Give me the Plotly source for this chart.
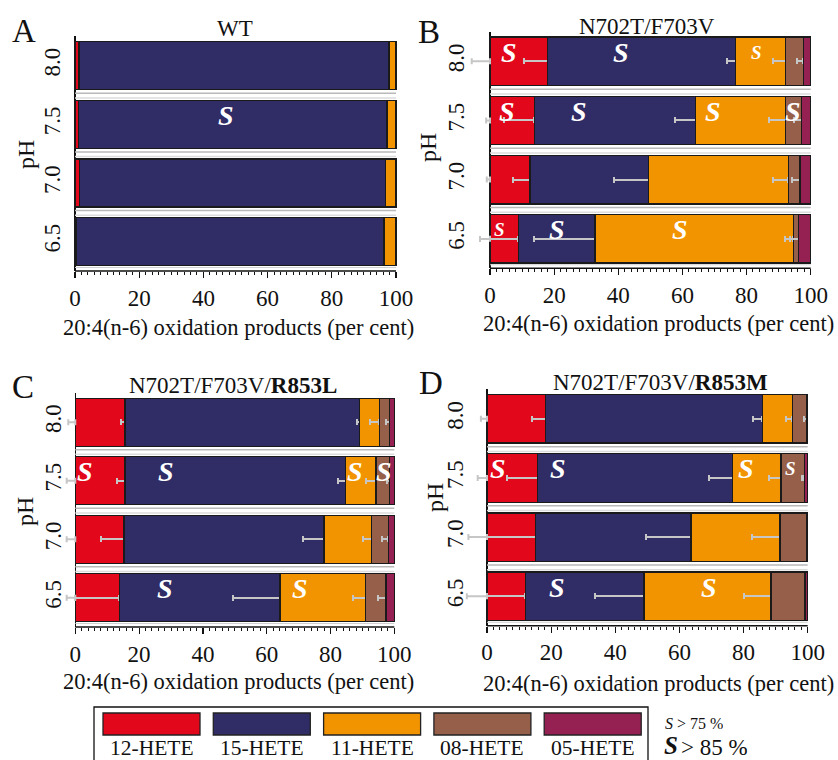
import plotly.graph_objects as go

W, H = 838, 760
FONT = "Liberation Serif"

ph = ["8.0", "7.5", "7.0", "6.5"]
products = ["12-HETE", "15-HETE", "11-HETE", "08-HETE", "05-HETE"]
colors = ["#E2071A", "#302C66", "#F29400", "#965F4A", "#952152"]
tick_vals = list(range(0, 101, 10))
tick_text = [str(v) if v % 20 == 0 else "" for v in tick_vals]
minor_vals = list(range(0, 101, 2))

# ---- Panel A : WT ----
A_12 = [1.2, 1.0, 1.3, 0.5]
A_15 = [96.6, 96.2, 95.4, 95.8]
A_11 = [2.2, 2.8, 3.3, 3.7]
A_08 = [0, 0, 0, 0]
A_05 = [0, 0, 0, 0]
A_err12 = [0, 0, 0, 0]
A_err15 = [0, 0, 0, 0]
A_err11 = [0, 0, 0, 0]
A_err08 = [0, 0, 0, 0]
A_err0 = [0, 0, 0, 0]
A_sig = [("7.5", 47.0, "S")]

# ---- Panel B : N702T/F703V ----
B_12 = [18.0, 13.8, 12.5, 8.8]
B_15 = [58.6, 50.3, 37.0, 23.9]
B_11 = [15.6, 28.1, 43.5, 61.9]
B_08 = [5.5, 5.0, 3.7, 1.7]
B_05 = [2.3, 2.8, 3.3, 3.7]
B_err12 = [7.3, 9.4, 5.4, 12.0]
B_err15 = [2.8, 6.4, 10.8, 19.0]
B_err11 = [4.0, 5.2, 4.9, 2.5]
B_err08 = [2.1, 2.4, 2.4, 2.7]
B_err0 = [5.7, 1.2, 1.0, 0]
B_sig = [("8.0", 5.9, "S"), ("8.0", 40.7, "S"), ("8.0", 83.2, "s"),
         ("7.5", 5.2, "S"), ("7.5", 27.9, "S"), ("7.5", 69.6, "S"), ("7.5", 94.6, "S"),
         ("6.5", 2.9, "s"), ("6.5", 20.8, "S"), ("6.5", 59.3, "S")]

# ---- Panel C : N702T/F703V/R853L ----
C_12 = [15.6, 15.6, 15.3, 13.8]
C_15 = [73.6, 69.2, 62.7, 50.4]
C_11 = [6.1, 9.5, 14.9, 26.8]
C_08 = [3.3, 4.3, 5.2, 6.4]
C_05 = [1.4, 1.4, 1.9, 2.6]
C_err12 = [1.4, 2.6, 7.3, 13.8]
C_err15 = [1.0, 2.6, 6.5, 14.9]
C_err11 = [2.9, 3.1, 2.6, 3.9]
C_err08 = [1.3, 1.0, 1.8, 2.4]
C_err0 = [2.2, 2.7, 2.7, 2.7]
C_sig = [("7.5", 3.0, "S"), ("7.5", 28.3, "S"), ("7.5", 87.7, "S"), ("7.5", 96.8, "S"),
         ("6.5", 28.1, "S"), ("6.5", 70.4, "S")]

# ---- Panel D : N702T/F703V/R853M ----
D_12 = [18.3, 15.8, 15.2, 11.9]
D_15 = [67.6, 60.8, 48.4, 37.1]
D_11 = [9.3, 15.1, 27.8, 39.6]
D_08 = [4.5, 7.3, 8.3, 10.6]
D_05 = [0.3, 1.0, 0.3, 0.8]
D_err12 = [4.2, 9.7, 15.2, 11.9]
D_err15 = [3.1, 7.3, 14.1, 15.3]
D_err11 = [2.0, 3.7, 8.8, 8.6]
D_err08 = [1.0, 0.8, 0, 0]
D_err0 = [1.9, 2.9, 5.8, 6.3]
D_sig = [("7.5", 3.5, "S"), ("7.5", 22.2, "S"), ("7.5", 80.8, "S"), ("7.5", 94.5, "s"),
         ("6.5", 21.7, "S"), ("6.5", 69.2, "S")]

panels = [
    dict(letter="A", title="WT",
         vals=[A_12, A_15, A_11, A_08, A_05], errs=[A_err12, A_err15, A_err11, A_err08, None],
         err0=A_err0, sig=A_sig,
         px0=75.0, px100=396.0, lo=-1.0, top=36.3, bot=271.0, standoff=6,
         letter_xy=(24, 31), title_xy=(235, 28), xt_xy=(238, 327), ph_xy=(26, 155)),
    dict(letter="B", title="N702T/F703V",
         vals=[B_12, B_15, B_11, B_08, B_05], errs=[B_err12, B_err15, B_err11, B_err08, None],
         err0=B_err0, sig=B_sig,
         px0=490.0, px100=810.7, lo=-6.5, top=31.8, bot=268.3, standoff=0,
         letter_xy=(429, 32), title_xy=(647, 27), xt_xy=(658, 323), ph_xy=(428, 147)),
    dict(letter="C", title="N702T/F703V/<b>R853L</b>",
         vals=[C_12, C_15, C_11, C_08, C_05], errs=[C_err12, C_err15, C_err11, C_err08, None],
         err0=C_err0, sig=C_sig,
         px0=75.3, px100=394.3, lo=-3.3, top=392.9, bot=627.0, standoff=-2,
         letter_xy=(23, 387), title_xy=(233, 385), xt_xy=(238, 681), ph_xy=(25, 512)),
    dict(letter="D", title="N702T/F703V/<b>R853M</b>",
         vals=[D_12, D_15, D_11, D_08, D_05], errs=[D_err12, D_err15, D_err11, D_err08, None],
         err0=D_err0, sig=D_sig,
         px0=487.0, px100=807.7, lo=-6.8, top=389.3, bot=625.8, standoff=-3,
         letter_xy=(431, 383), title_xy=(660, 382), xt_xy=(658, 683), ph_xy=(435, 497)),
]


def px(x):
    return x / W


def py(y):
    return 1 - y / H


def text_ann(x, y, text, size, anchor="center", **kw):
    d = dict(xref="paper", yref="paper", x=px(x), y=py(y), text=text,
             showarrow=False, xanchor=anchor, yanchor="middle",
             font=dict(family=FONT, size=size, color="#111"))
    d.update(kw)
    return d


fig = go.Figure()
annotations = []
shapes = []
layout_axes = {}
HI = 100.7
ERR_COLOR = "#c6c6c6"

for i, p in enumerate(panels):
    s = "" if i == 0 else str(i + 1)
    xa, ya = "x" + s, "y" + s
    for k in range(5):
        err = p["errs"][k]
        has_err = err is not None and any(e > 0 for e in err)
        fig.add_trace(go.Bar(
            x=p["vals"][k], y=ph, orientation="h", name=products[k],
            marker=dict(color=colors[k], line=dict(color="#1a1a1a", width=1.3)),
            error_x=dict(type="data", symmetric=False, array=[0] * len(ph),
                         arrayminus=err if has_err else [0] * len(ph),
                         visible=has_err, color=ERR_COLOR, thickness=2, width=3),
            xaxis=xa, yaxis=ya, showlegend=False, hoverinfo="skip"))
    if any(e > 0 for e in p["err0"]):
        fig.add_trace(go.Scatter(
            x=[0] * len(ph), y=ph, mode="markers", marker=dict(size=1, opacity=0),
            error_x=dict(type="data", symmetric=False, array=[0] * len(ph),
                         arrayminus=p["err0"], color=ERR_COLOR, thickness=2, width=3),
            xaxis=xa, yaxis=ya, showlegend=False, hoverinfo="skip"))

    scale = (p["px100"] - p["px0"]) / 100.0
    left = p["px0"] + p["lo"] * scale
    right = p["px0"] + HI * scale
    layout_axes["xaxis" + s] = dict(
        domain=[px(left), px(right)], range=[p["lo"], HI], anchor=ya,
        automargin=False,
        showgrid=False, showline=False, zeroline=True, zerolinecolor="#111",
        zerolinewidth=1.6, tickmode="array", tickvals=tick_vals, ticktext=tick_text,
        ticks="outside", ticklen=6, tickwidth=1.2, tickcolor="#111",
        minor=dict(tickmode="array", tickvals=minor_vals, ticks="outside",
                   ticklen=3, tickwidth=1, tickcolor="#111"),
        tickfont=dict(size=23, family=FONT, color="#111"), fixedrange=True)
    layout_axes["yaxis" + s] = dict(
        domain=[py(p["bot"]), py(p["top"])], range=[3.5, -0.5], anchor=xa,
        automargin=False,
        type="category", categoryorder="array", categoryarray=ph,
        showgrid=False, showline=False, zeroline=False, ticks="",
        ticklabelstandoff=p["standoff"],
        tickangle=-90, tickfont=dict(size=23, family=FONT, color="#111"),
        fixedrange=True)

    # bottom axis line
    shapes.append(dict(type="line", xref=xa, yref=ya + " domain", x0=0, x1=100,
                       y0=0, y1=0, line=dict(color="#111", width=1.6)))
    # separators between bars
    for k in range(len(ph) - 1):
        shapes.append(dict(type="line", xref=xa, yref=ya, x0=0, x1=100,
                           y0=k + 0.5 - 0.03, y1=k + 0.5 - 0.03,
                           line=dict(color="#b9b9b9", width=1.5)))
        shapes.append(dict(type="line", xref=xa, yref=ya, x0=0, x1=100,
                           y0=k + 0.5 + 0.05, y1=k + 0.5 + 0.05,
                           line=dict(color="#dcdcdc", width=1.5)))
    shapes.append(dict(type="line", xref=xa, yref=ya, x0=0, x1=100,
                       y0=3.5 - 0.06, y1=3.5 - 0.06,
                       line=dict(color="#d0d0d0", width=1.2)))

    # significance marks (y given as category index)
    for (phv, xv, kind) in p["sig"]:
        annotations.append(dict(
            xref=xa, yref=ya, x=xv, y=ph.index(phv), yshift=9, showarrow=False,
            xanchor="center", yanchor="middle",
            text="<b><i>S</i></b>",
            font=dict(family=FONT, size=28 if kind == "S" else 19, color="white")))

    lx, ly = p["letter_xy"]
    annotations.append(text_ann(lx, ly, p["letter"], 33))
    tx, ty = p["title_xy"]
    annotations.append(text_ann(tx, ty, p["title"], 23))
    xx, xy = p["xt_xy"]
    annotations.append(text_ann(xx, xy, "20:4(n-6) oxidation products (per cent)", 22.5))
    hx, hy = p["ph_xy"]
    annotations.append(text_ann(hx, hy, "pH", 24, textangle=-90))

# ---- custom legend box ----
shapes.append(dict(type="rect", xref="paper", yref="paper",
                   x0=px(94), x1=px(648), y0=py(765), y1=py(707),
                   line=dict(color="#111", width=1.3), fillcolor="rgba(0,0,0,0)"))
for k, name in enumerate(products):
    x0 = 103 + k * 110.3
    shapes.append(dict(type="rect", xref="paper", yref="paper",
                       x0=px(x0), x1=px(x0 + 97), y0=py(735), y1=py(713),
                       line=dict(color="#222", width=1.3), fillcolor=colors[k]))
    annotations.append(text_ann(x0 + 48.5, 747.5, name, 21.5))
annotations.append(text_ann(663, 722.5, "<i>S</i> > 75 %", 16, anchor="left", height=20))
annotations.append(text_ann(662, 745, "<b><i>S</i></b>", 25, anchor="left", height=22))
annotations.append(text_ann(679, 746.5, "> 85 %", 23, anchor="left", height=22))

fig.update_layout(
    width=W, height=H, margin=dict(l=0, r=0, t=0, b=0, autoexpand=False),
    paper_bgcolor="white", plot_bgcolor="white",
    barmode="stack", bargap=0.18, showlegend=False,
    font=dict(family=FONT, color="#111"),
    annotations=annotations, shapes=shapes, **layout_axes)

fig.write_html("out.html", config={"displayModeBar": False, "staticPlot": True},
               post_script="document.body.style.margin='0';document.body.style.overflow='hidden';")
